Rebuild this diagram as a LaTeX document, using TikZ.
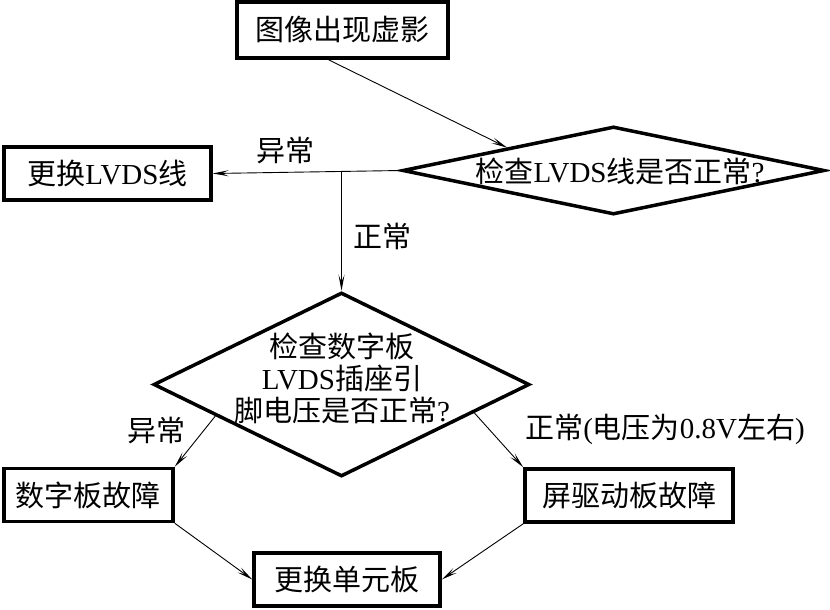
\documentclass[tikz,border=0pt]{standalone}
\usepackage{fontspec}
\setmainfont{Noto Sans CJK SC}
\newfontfamily\lat{Liberation Serif}
\usetikzlibrary{shapes.geometric, arrows.meta}

\begin{document}
\begin{tikzpicture}[x=1pt, y=-1pt,
    every node/.style={font=\fontsize{29}{32}\selectfont, inner sep=2pt},
    box/.style={draw, line width=3.5pt, minimum height=53pt},
    check/.style={draw, diamond, line width=3.5pt, inner sep=0pt},
    link/.style={line width=0.9pt, -{Stealth[length=16pt, width=6pt, inset=7pt]}}]

    \useasboundingbox (0, 0) rectangle (830, 610);

    % Boxes
    \node[box, minimum width=211pt, minimum height=56pt] (start) at (342.5, 30) {图像出现虚影};
    \node[box, minimum width=207pt] (swaplvds) at (107.5, 173.5) {更换{\lat LVDS}线};
    \node[box, minimum width=169pt] (boardfault) at (88.5, 495) {数字板故障};
    \node[box, minimum width=208pt] (drvfault) at (629, 495.5) {屏驱动板故障};
    \node[box, minimum width=186pt] (swapunit) at (347, 579.5) {更换单元板};

    % Checks
    \node[check, minimum width=422pt, minimum height=88pt] (check1) at (613.5, 170.5) {};
    \node (check1txt) at (620, 171) {检查{\lat LVDS}线是否正常{\lat ?}};
    \node[check, minimum width=376pt, minimum height=184pt] (check2) at (341.5, 384.5) {};
    \node[align=center] (check2txt) at (342, 378) {检查数字板\\{\lat LVDS}插座引\\脚电压是否正常{\lat ?}};

    % Connectors
    \draw[link] ([xshift=-14pt]start.south) -- (check1.north west);
    \draw[link] (check1.west) -- (swaplvds.east);
    \coordinate (split) at (check2.north |- check1.west);
    \draw[link] (split) -- (check2.north);
    \draw[link] (check2.194) -- (boardfault.north east);
    \draw[link] (check2.348) -- (drvfault.north west);
    \draw[link] (boardfault.south east) -- (swapunit.west);
    \draw[link] (drvfault.south west) -- (swapunit.east);

    % Labels
    \node (abn1) at (285, 151) {异常};
    \node (ok1) at (382, 236) {正常};
    \node (abn2) at (156, 431) {异常};
    \node (ok2) at (665, 429) {正常{\lat (}电压为{\lat 0.8V}左右{\lat )}};

\end{tikzpicture}
\end{document}
